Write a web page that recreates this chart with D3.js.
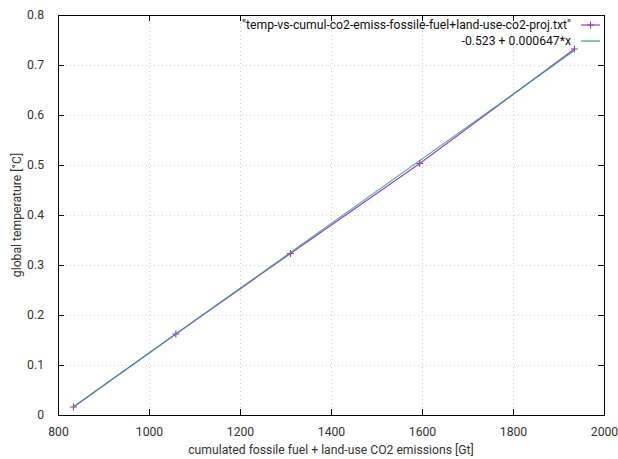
<!DOCTYPE html>
<html>
<head>
<meta charset="utf-8">
<script src="https://cdn.jsdelivr.net/npm/d3@7"></script>
<style>
  html, body { margin: 0; padding: 0; background: #fff; }
  svg { display: block; font-family: Roboto, "Liberation Sans", sans-serif; }
</style>
</head>
<body>
<svg id="chart" width="618" height="459"></svg>
<script>
// Cumulated emissions [Gt] and global temperature [°C]
const emissions = [834, 1059, 1311, 1595, 1935];
const temperature = [0.016, 0.162, 0.323, 0.503, 0.732];
// Linear fit coefficients
const fitIntercept = -0.523;
const fitSlope = 0.000647;
const xTicks = [800, 1000, 1200, 1400, 1600, 1800, 2000];
const yTicks = [0, 0.1, 0.2, 0.3, 0.4, 0.5, 0.6, 0.7, 0.8];
const seriesLabels = ["\"temp-vs-cumul-co2-emiss-fossile-fuel+land-use-co2-proj.txt\"", "-0.523 + 0.000647*x"];

const svg = d3.select("#chart");
const m = { left: 58, right: 604, top: 15, bottom: 415 };
const x = d3.scaleLinear().domain([800, 2000]).range([m.left, m.right]);
const y = d3.scaleLinear().domain([0, 0.8]).range([m.bottom, m.top]);

const dataColor = "#9a3fc4";
const fitColor = "#2f9c98";
const textColor = "#333";

// grid
const grid = svg.append("g").attr("stroke", "#d0d0d0").attr("stroke-width", 1)
  .attr("stroke-dasharray", "1,3");
xTicks.slice(1, -1).forEach(t => grid.append("line")
  .attr("x1", x(t) + 0.5).attr("x2", x(t) + 0.5).attr("y1", m.top).attr("y2", m.bottom));
yTicks.slice(1, -1).forEach(t => grid.append("line")
  .attr("y1", Math.round(y(t)) + 0.5).attr("y2", Math.round(y(t)) + 0.5).attr("x1", m.left).attr("x2", m.right));

// axes with inward ticks, mirrored on top and right
const tickLen = 6;
const fmtY = d => d === 0 ? "0" : d3.format(".1f")(d);
const bottomAxis = d3.axisBottom(x).tickValues(xTicks).tickSizeInner(-tickLen).tickSizeOuter(0).tickPadding(12).tickFormat(d3.format("d"));
const topAxis = d3.axisTop(x).tickValues(xTicks).tickSizeInner(-tickLen).tickSizeOuter(0).tickFormat("");
const leftAxis = d3.axisLeft(y).tickValues(yTicks).tickSizeInner(-tickLen).tickSizeOuter(0).tickPadding(14).tickFormat(fmtY);
const rightAxis = d3.axisRight(y).tickValues(yTicks).tickSizeInner(-tickLen).tickSizeOuter(0).tickFormat("");

function styleAxis(g) {
  g.select(".domain").remove();
  g.selectAll("line").attr("stroke", "#000");
  g.selectAll("text").attr("fill", textColor).style("font-size", "12.2px").style("font-family", "Roboto, sans-serif");
}
svg.append("g").attr("transform", `translate(0,${m.bottom})`).call(bottomAxis).call(styleAxis);
svg.append("g").attr("transform", `translate(0,${m.top})`).call(topAxis).call(styleAxis);
svg.append("g").attr("transform", `translate(${m.left},0)`).call(leftAxis).call(styleAxis);
svg.append("g").attr("transform", `translate(${m.right},0)`).call(rightAxis).call(styleAxis);

// border
svg.append("rect").attr("x", m.left + 0.5).attr("y", m.top + 0.5)
  .attr("width", m.right - m.left).attr("height", m.bottom - m.top)
  .attr("fill", "none").attr("stroke", "#000").attr("stroke-width", 1);

// data line and markers
const pts = emissions.map((e, i) => [e, temperature[i]]);
const line = d3.line().x(d => x(d[0])).y(d => y(d[1]));
svg.append("path").datum(pts).attr("d", line)
  .attr("fill", "none").attr("stroke", dataColor).attr("stroke-width", 1.2);

const plus = (g, cx, cy, s, color) => {
  g.append("path").attr("d", `M${cx - s},${cy}H${cx + s}M${cx},${cy - s}V${cy + s}`)
    .attr("stroke", color).attr("stroke-width", 1.2).attr("fill", "none");
};
const marks = svg.append("g");
pts.forEach(d => plus(marks, x(d[0]), y(d[1]), 3.5, dataColor));

// fitted line over the data range
const fitX = d3.extent(emissions);
const fitPts = fitX.map(v => [v, fitIntercept + fitSlope * v]);
svg.append("path").datum(fitPts).attr("d", line)
  .attr("fill", "none").attr("stroke", fitColor).attr("stroke-width", 1.1).attr("opacity", 0.85);

// legend
const lg = svg.append("g").style("font-size", "12.2px").attr("fill", "#111");
lg.append("text").attr("x", 571).attr("y", 29).attr("text-anchor", "end").text(seriesLabels[0]);
lg.append("line").attr("x1", 581).attr("x2", 600).attr("y1", 25).attr("y2", 25).attr("stroke", dataColor).attr("stroke-width", 1.2);
plus(lg, 590.5, 25, 3.5, dataColor);
lg.append("text").attr("x", 571).attr("y", 45).attr("text-anchor", "end").text(seriesLabels[1]);
lg.append("line").attr("x1", 581).attr("x2", 600).attr("y1", 41).attr("y2", 41).attr("stroke", fitColor).attr("stroke-width", 1.2);

// axis titles
svg.append("text").attr("x", 331).attr("y", 454).attr("text-anchor", "middle")
  .attr("fill", textColor).style("font-size", "12.2px")
  .text("cumulated fossile fuel + land-use CO2 emissions [Gt]");
svg.append("text").attr("transform", "translate(21,215) rotate(-90)").attr("text-anchor", "middle")
  .attr("fill", textColor).style("font-size", "12.2px")
  .text("global temperature [°C]");
</script>
</body>
</html>
